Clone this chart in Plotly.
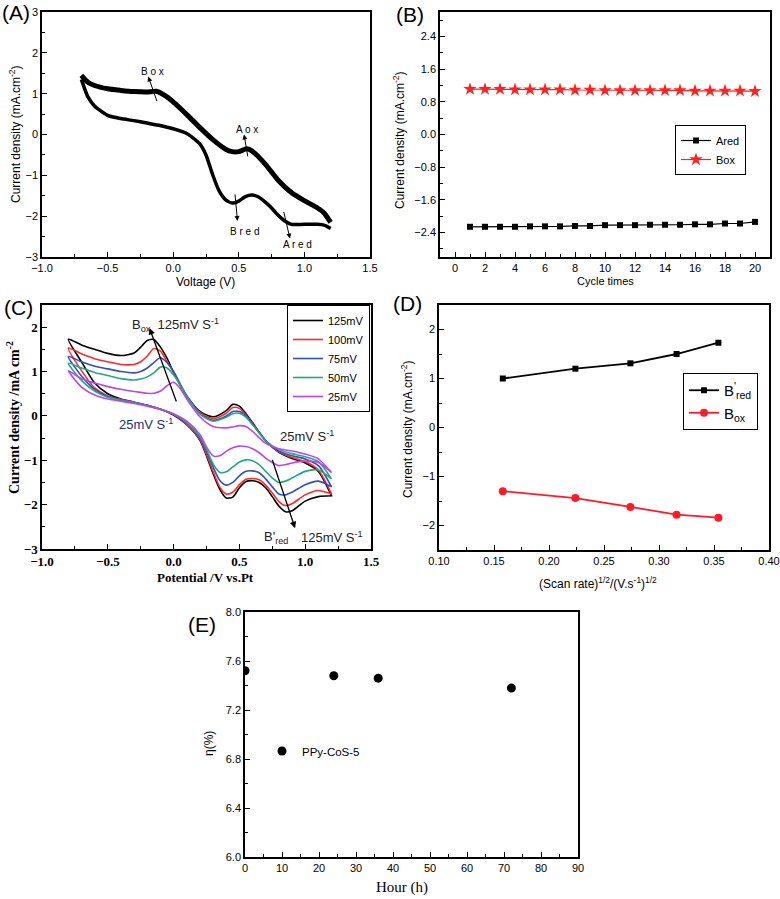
import plotly.graph_objects as go

W, H = 780, 899

# ---------------- Panel A : CV (thick, many cycles) ----------------
A_UP_X = [-0.70, -0.65, -0.60, -0.50, -0.40, -0.30, -0.20, -0.13, -0.05, 0.00, 0.10, 0.20, 0.30, 0.40, 0.45, 0.50, 0.56, 0.60, 0.70, 0.80, 0.90, 1.00, 1.10, 1.15, 1.20]
A_UP_Y = [1.45, 1.28, 1.20, 1.12, 1.08, 1.05, 1.04, 1.06, 0.93, 0.80, 0.50, 0.18, -0.12, -0.36, -0.42, -0.42, -0.35, -0.40, -0.72, -1.12, -1.42, -1.62, -1.80, -1.92, -2.15]
A_LO_X = [1.20, 1.15, 1.10, 1.00, 0.90, 0.85, 0.80, 0.75, 0.70, 0.65, 0.60, 0.55, 0.50, 0.45, 0.40, 0.35, 0.30, 0.25, 0.20, 0.15, 0.10, 0.00, -0.10, -0.20, -0.30, -0.40, -0.50, -0.60, -0.65, -0.70]
A_LO_Y = [-2.30, -2.22, -2.20, -2.20, -2.20, -2.12, -1.98, -1.80, -1.65, -1.53, -1.48, -1.52, -1.63, -1.68, -1.60, -1.38, -0.98, -0.50, -0.22, -0.08, 0.03, 0.14, 0.22, 0.28, 0.34, 0.39, 0.47, 0.70, 0.92, 1.35]

# ---------------- Panel B : peak current vs cycle ----------------
B_CYCLES = list(range(1, 21))
B_ARED = [-2.26, -2.26, -2.26, -2.26, -2.25, -2.25, -2.25, -2.24, -2.24, -2.22, -2.22, -2.22, -2.21, -2.21, -2.21, -2.20, -2.20, -2.18, -2.18, -2.14]
B_BOX = [1.11, 1.11, 1.11, 1.10, 1.10, 1.10, 1.10, 1.09, 1.09, 1.08, 1.08, 1.08, 1.08, 1.08, 1.08, 1.07, 1.07, 1.07, 1.07, 1.06]

# ---------------- Panel C : CV at several scan rates ----------------
C_RATES = ["125mV", "100mV", "75mV", "50mV", "25mV"]
C_X_UP = [-0.8, -0.7, -0.6, -0.5, -0.4, -0.3, -0.25, -0.2, -0.15, -0.1, -0.05, 0.0, 0.05, 0.1, 0.2, 0.3, 0.4, 0.45, 0.5, 0.55, 0.6, 0.7, 0.8, 0.9, 1.0, 1.1, 1.2]
C_X_LO = [1.2, 1.1, 1.0, 0.9, 0.85, 0.8, 0.75, 0.7, 0.65, 0.6, 0.55, 0.5, 0.45, 0.4, 0.35, 0.3, 0.25, 0.2, 0.1, 0.0, -0.1, -0.2, -0.3, -0.4, -0.5, -0.6, -0.7, -0.8]
C_125_UP = [1.73, 1.60, 1.50, 1.41, 1.36, 1.42, 1.55, 1.70, 1.72, 1.55, 1.30, 0.98, 0.70, 0.45, 0.10, -0.02, 0.12, 0.26, 0.22, 0.05, -0.15, -0.56, -0.82, -0.96, -1.06, -1.25, -1.80]
C_100_UP = [1.53, 1.40, 1.29, 1.22, 1.16, 1.16, 1.22, 1.35, 1.52, 1.46, 1.22, 0.98, 0.68, 0.43, 0.08, -0.06, 0.06, 0.19, 0.17, 0.02, -0.17, -0.56, -0.81, -0.94, -1.03, -1.22, -1.76]
C_75_UP = [1.34, 1.22, 1.12, 1.06, 1.00, 0.97, 1.00, 1.08, 1.20, 1.31, 1.20, 1.00, 0.72, 0.45, 0.06, -0.10, 0.00, 0.10, 0.10, 0.00, -0.18, -0.56, -0.79, -0.90, -0.97, -1.12, -1.60]
C_50_UP = [1.19, 1.08, 0.98, 0.91, 0.84, 0.81, 0.83, 0.88, 0.97, 1.10, 1.08, 0.92, 0.70, 0.44, 0.04, -0.12, -0.03, 0.05, 0.06, -0.03, -0.20, -0.56, -0.76, -0.85, -0.92, -1.03, -1.42]
C_25_UP = [1.02, 0.84, 0.74, 0.66, 0.60, 0.55, 0.53, 0.51, 0.51, 0.56, 0.68, 0.76, 0.62, 0.38, -0.02, -0.24, -0.27, -0.25, -0.22, -0.24, -0.35, -0.62, -0.74, -0.79, -0.86, -0.97, -1.28]
C_125_LO = [-1.80, -1.82, -1.92, -2.14, -2.16, -2.03, -1.82, -1.62, -1.50, -1.46, -1.48, -1.62, -1.83, -1.85, -1.65, -1.30, -0.90, -0.55, -0.20, 0.02, 0.15, 0.24, 0.31, 0.38, 0.50, 0.74, 1.22, 1.73]
C_100_LO = [-1.76, -1.68, -1.78, -1.98, -2.02, -1.93, -1.74, -1.56, -1.44, -1.41, -1.43, -1.55, -1.72, -1.76, -1.60, -1.25, -0.87, -0.53, -0.19, 0.03, 0.15, 0.24, 0.31, 0.37, 0.45, 0.63, 1.02, 1.53]
C_75_LO = [-1.60, -1.47, -1.55, -1.72, -1.78, -1.76, -1.60, -1.42, -1.28, -1.24, -1.25, -1.35, -1.50, -1.56, -1.45, -1.15, -0.80, -0.50, -0.17, 0.04, 0.15, 0.24, 0.30, 0.36, 0.44, 0.60, 0.90, 1.34]
C_50_LO = [-1.42, -1.22, -1.25, -1.40, -1.47, -1.50, -1.40, -1.25, -1.10, -1.01, -0.99, -1.04, -1.15, -1.26, -1.27, -1.08, -0.75, -0.47, -0.15, 0.04, 0.15, 0.23, 0.30, 0.35, 0.42, 0.56, 0.80, 1.19]
C_25_LO = [-1.28, -1.05, -1.02, -1.06, -1.10, -1.12, -1.05, -0.95, -0.83, -0.74, -0.69, -0.68, -0.72, -0.80, -0.90, -0.90, -0.70, -0.42, -0.12, 0.05, 0.15, 0.22, 0.28, 0.33, 0.38, 0.47, 0.65, 1.02]

# ---------------- Panel D : peak current vs sqrt(scan rate) ----------------
D_X = [0.158, 0.224, 0.274, 0.316, 0.354]
D_BRED = [1.00, 1.20, 1.31, 1.50, 1.73]
D_BOX = [-1.30, -1.44, -1.62, -1.78, -1.84]

# ---------------- Panel E : efficiency vs time ----------------
E_HOURS = [0, 24, 36, 72]
E_ETA = [7.52, 7.48, 7.46, 7.38]

SANS = "Liberation Sans, Arial, sans-serif"
SERIF = "Liberation Serif, Times New Roman, serif"


def px_x(p):
    return p / W


def px_y(p):
    return 1 - p / H


fig = go.Figure()

# Panel A
fig.add_trace(go.Scatter(x=A_UP_X, y=A_UP_Y, mode="lines", line=dict(color="black", width=5, shape="spline", smoothing=0.6),
                         xaxis="x", yaxis="y", showlegend=False))
fig.add_trace(go.Scatter(x=A_LO_X, y=A_LO_Y, mode="lines", line=dict(color="black", width=3.5, shape="spline", smoothing=0.6),
                         xaxis="x", yaxis="y", showlegend=False))

# Panel B
fig.add_trace(go.Scatter(x=B_CYCLES, y=B_ARED, mode="lines+markers", name="Ared",
                         line=dict(color="black", width=1.2), marker=dict(symbol="square", size=6, color="black"),
                         xaxis="x2", yaxis="y2", legend="legend"))
fig.add_trace(go.Scatter(x=B_CYCLES, y=B_BOX, mode="lines+markers", name="Box",
                         line=dict(color="#ff2020", width=1.2), marker=dict(symbol="star", size=10, color="#ff2020"),
                         xaxis="x2", yaxis="y2", legend="legend"))

# Panel C
C_COLORS = ["#000000", "#ff2a2a", "#3050c0", "#20a880", "#b848ec"]
C_UPS = [C_125_UP, C_100_UP, C_75_UP, C_50_UP, C_25_UP]
C_LOS = [C_125_LO, C_100_LO, C_75_LO, C_50_LO, C_25_LO]
for name, col, up, lo in zip(C_RATES, C_COLORS, C_UPS, C_LOS):
    fig.add_trace(go.Scatter(x=C_X_UP + C_X_LO, y=up + lo, mode="lines", name=name,
                             line=dict(color=col, width=1.6, shape="spline", smoothing=0.7),
                             xaxis="x3", yaxis="y3", legend="legend2"))

# Panel D
fig.add_trace(go.Scatter(x=D_X, y=D_BRED, mode="lines+markers", name="B<sup>'</sup><sub>red</sub>",
                         line=dict(color="black", width=1.8), marker=dict(symbol="square", size=6, color="black"),
                         xaxis="x4", yaxis="y4", legend="legend3"))
fig.add_trace(go.Scatter(x=D_X, y=D_BOX, mode="lines+markers", name="B<sub>ox</sub>",
                         line=dict(color="#ff1a2a", width=1.8), marker=dict(symbol="circle", size=8, color="#ff1a2a"),
                         xaxis="x4", yaxis="y4", legend="legend3"))

# Panel E
fig.add_trace(go.Scatter(x=E_HOURS, y=E_ETA, mode="markers", name="PPy-CoS-5",
                         marker=dict(symbol="circle", size=9, color="black"),
                         xaxis="x5", yaxis="y5", legend="legend4"))


def axis(domain, anchor, rng, dtick, minor_dtick, fmt, font, tick0=0):
    return dict(domain=domain, anchor=anchor, range=rng, tick0=tick0, dtick=dtick, tickformat=fmt,
                automargin=False, ticklabeloverflow="allow",
                showline=True, linecolor="black", linewidth=1.5, mirror=True,
                ticks="inside", ticklen=5, tickwidth=1.2, tickcolor="black",
                showgrid=False, zeroline=False, tickfont=font,
                minor=dict(dtick=minor_dtick, tick0=tick0, ticks="inside", ticklen=3, tickwidth=1, tickcolor="black", showgrid=False))


sans_tick = dict(family=SANS, size=11, color="black")
serif_tick = dict(family=SERIF, size=13, color="black", weight="bold")

dA_x = [px_x(42), px_x(370)]
dA_y = [px_y(257), px_y(12)]
dB_x = [px_x(440), px_x(770)]
dC_x = [px_x(42), px_x(371)]
dC_y = [px_y(549), px_y(305)]
dD_x = [px_x(439), px_x(769)]
dD_y = [px_y(550), px_y(305)]
dE_x = [px_x(245), px_x(578)]
dE_y = [px_y(857), px_y(612)]

fig.update_layout(
    template="none",
    width=W, height=H, margin=dict(l=0, r=0, t=0, b=0, autoexpand=False),
    paper_bgcolor="white", plot_bgcolor="white",
    xaxis=axis(dA_x, "y", [-1.0, 1.5], 0.5, 0.25, ".1f", sans_tick),
    yaxis=axis(dA_y, "x", [-3, 3], 1, 0.5, "d", sans_tick),
    xaxis2=axis(dB_x, "y2", [-1, 21], 2, 1, "d", sans_tick),
    yaxis2=axis(dA_y, "x2", [-3, 3], 0.8, 0.4, ".1f", sans_tick),
    xaxis3=axis(dC_x, "y3", [-1.0, 1.5], 0.5, 0.25, ".1f", serif_tick),
    yaxis3=axis(dC_y, "x3", [-3, 2.5], 1, 0.5, "d", serif_tick),
    xaxis4=axis(dD_x, "y4", [0.10, 0.40], 0.05, 0.025, ".2f", sans_tick),
    yaxis4=axis(dD_y, "x4", [-2.5, 2.5], 1, 0.5, "d", sans_tick),
    xaxis5=axis(dE_x, "y5", [0, 90], 10, 5, "d", sans_tick),
    yaxis5=axis(dE_y, "x5", [6.0, 8.0], 0.4, 0.2, ".1f", sans_tick),
    legend=dict(x=px_x(675), y=px_y(125), xanchor="left", yanchor="top", bgcolor="white",
                bordercolor="black", borderwidth=1, font=dict(family=SANS, size=11, color="black"),
                itemwidth=30, tracegroupgap=0),
    legend2=dict(x=px_x(287), y=px_y(305), xanchor="left", yanchor="top", bgcolor="white",
                 bordercolor="black", borderwidth=1, font=dict(family=SANS, size=11, color="black"),
                 itemwidth=30, tracegroupgap=0),
    legend3=dict(x=px_x(683), y=px_y(373), xanchor="left", yanchor="top", bgcolor="white",
                 bordercolor="black", borderwidth=1, font=dict(family=SANS, size=15, color="black"),
                 itemwidth=30, tracegroupgap=0),
    legend4=dict(x=px_x(262), y=px_y(751), xanchor="left", yanchor="middle", bgcolor="rgba(0,0,0,0)",
                 borderwidth=0, font=dict(family=SANS, size=11.5, color="black"), itemwidth=30),
)

ann = []


def label(text, x, y, size=11, family=SANS, angle=0, xanchor="center", yanchor="middle", color="black", bold=False):
    f = dict(family=family, size=size, color=color)
    if bold:
        f["weight"] = "bold"
    ann.append(dict(text=text, x=x, y=y, xref="paper", yref="paper", showarrow=False, textangle=angle,
                    xanchor=xanchor, yanchor=yanchor, font=f))


# panel letters
label("(A)", px_x(0), px_y(12), size=21, xanchor="left")
label("(B)", px_x(394), px_y(15), size=21, xanchor="left")
label("(C)", px_x(2), px_y(307), size=21, xanchor="left")
label("(D)", px_x(391), px_y(304), size=21, xanchor="left")
label("(E)", px_x(186), px_y(624), size=21, xanchor="left")

# axis titles
label("Voltage (V)", px_x(205), px_y(282), size=12)
label("Current density (mA.cm<sup>-2</sup>)", px_x(15), px_y(135), size=12, angle=-90)
label("Cycle times", px_x(605), px_y(281), size=11)
label("Current density (mA.cm<sup>-2</sup>)", px_x(399), px_y(140), size=12, angle=-90)
label("Potential /V vs.Pt", px_x(205), px_y(577), size=13, family=SERIF, bold=True)
label("Current density /mA cm<sup>-2</sup>", px_x(13), px_y(418), size=14, family=SERIF, angle=-90, bold=True)
label("(Scan rate)<sup>1/2</sup>/(V.s<sup>-1</sup>)<sup>1/2</sup>", px_x(598), px_y(583), size=12)
label("Current density (mA.cm<sup>-2</sup>)", px_x(407), px_y(430), size=12, angle=-90)
label("Hour (h)", px_x(402), px_y(887), size=15, family=SERIF)
label("η(%)", px_x(209), px_y(744), size=12, angle=-90)


def data_text(text, x, y, xr, yr, size=10, color="black", xanchor="center"):
    ann.append(dict(text=text, x=x, y=y, xref=xr, yref=yr, showarrow=False, xanchor=xanchor,
                    font=dict(family=SANS, size=size, color=color)))


def arrow(hx, hy, tx, ty, xr, yr, width=1.0):
    ann.append(dict(text="", x=hx, y=hy, ax=tx, ay=ty, xref=xr, yref=yr, axref=xr, ayref=yr,
                    showarrow=True, arrowhead=2, arrowsize=1, arrowwidth=width, arrowcolor="black"))


# Panel A annotations
data_text("B o x", -0.16, 1.55, "x", "y")
data_text("A o x", 0.56, 0.12, "x", "y")
data_text("B r e d", 0.54, -2.38, "x", "y")
data_text("A r e d", 0.95, -2.70, "x", "y")
arrow(-0.19, 1.42, -0.12, 0.78, "x", "y")
arrow(0.54, 0.0, 0.57, -0.57, "x", "y")
arrow(0.49, -2.12, 0.47, -1.43, "x", "y")
arrow(0.89, -2.55, 0.84, -1.86, "x", "y")

# Panel C annotations
data_text("B<sub>ox</sub>  125mV S<sup>-1</sup>", -0.33, 2.06, "x3", "y3", size=13, color="#222", xanchor="left")
data_text("25mV S<sup>-1</sup>", -0.43, -0.19, "x3", "y3", size=13, color="#24306e", xanchor="left")
data_text("25mV S<sup>-1</sup>", 0.79, -0.46, "x3", "y3", size=13, color="#222", xanchor="left")
data_text("B'<sub>red</sub>", 0.67, -2.74, "x3", "y3", size=13, color="#222", xanchor="left")
data_text("125mV S<sup>-1</sup>", 0.95, -2.72, "x3", "y3", size=13, color="#222", xanchor="left")
arrow(-0.183, 1.98, 0.025, 0.29, "x3", "y3", width=1.3)
arrow(0.923, -2.53, 0.746, -0.955, "x3", "y3", width=1.3)

fig.update_layout(annotations=ann)

# the figure fills the whole window: drop the default page margin of the body
fig.write_html("out.html", config={"displayModeBar": False},
               post_script="document.body.style.margin='0px';document.body.style.overflow='hidden';")
